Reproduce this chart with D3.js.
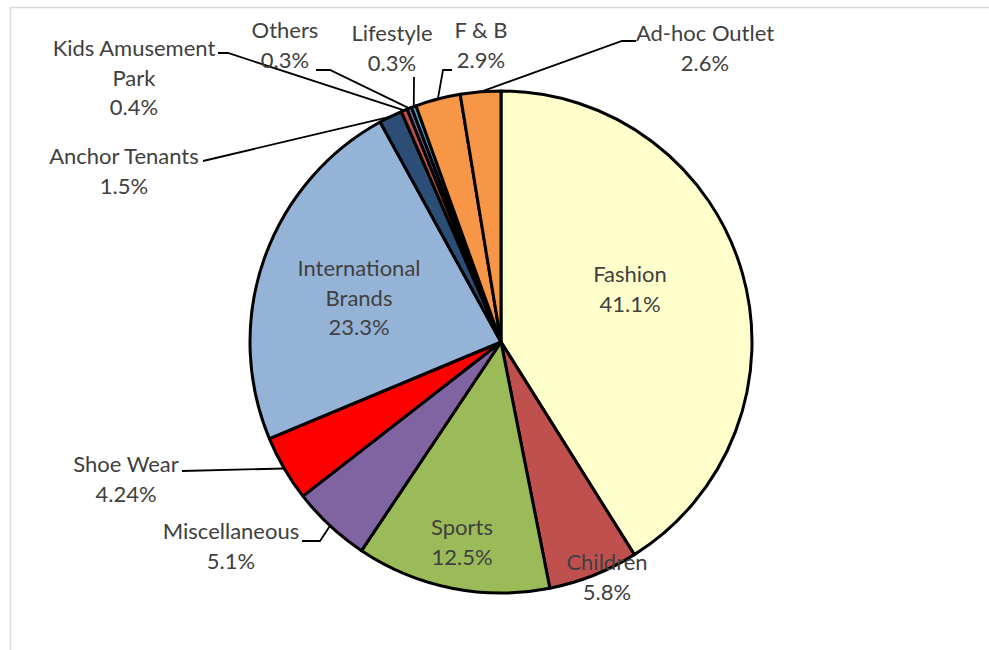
<!DOCTYPE html>
<html lang="en">
<head>
<meta charset="utf-8">
<title>Tenant mix</title>
<script src="https://cdn.jsdelivr.net/npm/d3@7"></script>
<style>
  body { margin: 0; background: #fff; }
  text { font-family: Lato, "Open Sans", sans-serif; font-size: 22px; fill: #404040; }
</style>
</head>
<body>
<div id="chart"></div>
<script>
// data, clockwise from 12 o'clock
var categories = ["Fashion", "Children", "Sports", "Miscellaneous", "Shoe Wear",
  "International Brands", "Anchor Tenants", "Kids Amusement Park", "Others",
  "Lifestyle", "F & B", "Ad-hoc Outlet"];
var shares = [41.1, 5.8, 12.5, 5.1, 4.24, 23.3, 1.5, 0.4, 0.3, 0.3, 2.9, 2.6];
var shareLabels = ["41.1%", "5.8%", "12.5%", "5.1%", "4.24%", "23.3%", "1.5%",
  "0.4%", "0.3%", "0.3%", "2.9%", "2.6%"];
var colors = ["#FFFFCC", "#C0504D", "#9BBB59", "#8064A2", "#FF0000", "#95B3D7",
  "#2C4D75", "#C0504D", "#8064A2", "#4BACC6", "#F79646", "#F79646"];

// label layout: text lines, centre x, first line y, optional leader elbow
var labelLayout = {
  "Fashion": { lines: ["Fashion"], x: 630, y: 276 },
  "Children": { lines: ["Children"], x: 607, y: 564 },
  "Sports": { lines: ["Sports"], x: 462, y: 529 },
  "Miscellaneous": { lines: ["Miscellaneous"], x: 231, y: 533, elbow: [[302, 541], [320, 541]] },
  "Shoe Wear": { lines: ["Shoe Wear"], x: 126, y: 466, elbow: [[182, 471]] },
  "International Brands": { lines: ["International", "Brands"], x: 359, y: 270 },
  "Anchor Tenants": { lines: ["Anchor Tenants"], x: 124, y: 158, elbow: [[203, 161]] },
  "Kids Amusement Park": { lines: ["Kids Amusement", "Park"], x: 134, y: 50, elbow: [[218, 53], [228, 53]] },
  "Others": { lines: ["Others"], x: 285, y: 32, elbow: [[316, 70], [330, 70]] },
  "Lifestyle": { lines: ["Lifestyle"], x: 392, y: 35, elbow: [[414, 77]] },
  "F & B": { lines: ["F & B"], x: 481, y: 32, elbow: [[452, 70], [443, 70]] },
  "Ad-hoc Outlet": { lines: ["Ad-hoc Outlet"], x: 705, y: 35, elbow: [[636, 41], [622, 41]] }
};

var width = 989, height = 650;
var cx = 501, cy = 342, radius = 251;
var lineH = 29.5;

var svg = d3.select("#chart").append("svg")
  .attr("width", width)
  .attr("height", height);

// chart area frame
svg.append("rect")
  .attr("x", 10.5).attr("y", 7.5)
  .attr("width", 1000).attr("height", 700)
  .style("fill", "none")
  .style("stroke", "#d9d9d9")
  .style("stroke-width", 1.5);

var data = categories.map(function(c, i) {
  return { name: c, value: shares[i], label: shareLabels[i], color: colors[i] };
});

var pie = d3.pie().sort(null).value(function(d) { return d.value; });
var arc = d3.arc().innerRadius(0).outerRadius(radius);
var arcs = pie(data);

var g = svg.append("g").attr("transform", "translate(" + cx + "," + cy + ")");

g.selectAll("path.slice")
  .data(arcs)
  .enter().append("path")
  .attr("class", "slice")
  .attr("d", arc)
  .style("fill", function(d) { return d.data.color; })
  .style("stroke", "#000")
  .style("stroke-width", 3)
  .style("stroke-linejoin", "round");

// leader lines
svg.selectAll("polyline.leader")
  .data(arcs.filter(function(d) { return labelLayout[d.data.name].elbow; }))
  .enter().append("polyline")
  .attr("class", "leader")
  .attr("points", function(d) {
    var mid = (d.startAngle + d.endAngle) / 2;
    var end = [cx + radius * Math.sin(mid), cy - radius * Math.cos(mid)];
    var pts = labelLayout[d.data.name].elbow.concat([end]);
    return pts.map(function(p) { return p.join(","); }).join(" ");
  })
  .style("fill", "none")
  .style("stroke", "#000")
  .style("stroke-width", 1.8);

// labels
var labels = svg.selectAll("text.lbl")
  .data(arcs)
  .enter().append("text")
  .attr("class", "lbl")
  .attr("text-anchor", "middle")
  .attr("dominant-baseline", "middle");

labels.each(function(d) {
  var lay = labelLayout[d.data.name];
  var t = d3.select(this);
  var lines = lay.lines.concat([d.data.label]);
  lines.forEach(function(s, k) {
    t.append("tspan")
      .attr("x", lay.x)
      .attr("y", lay.y + k * lineH)
      .text(s);
  });
});
</script>
</body>
</html>
